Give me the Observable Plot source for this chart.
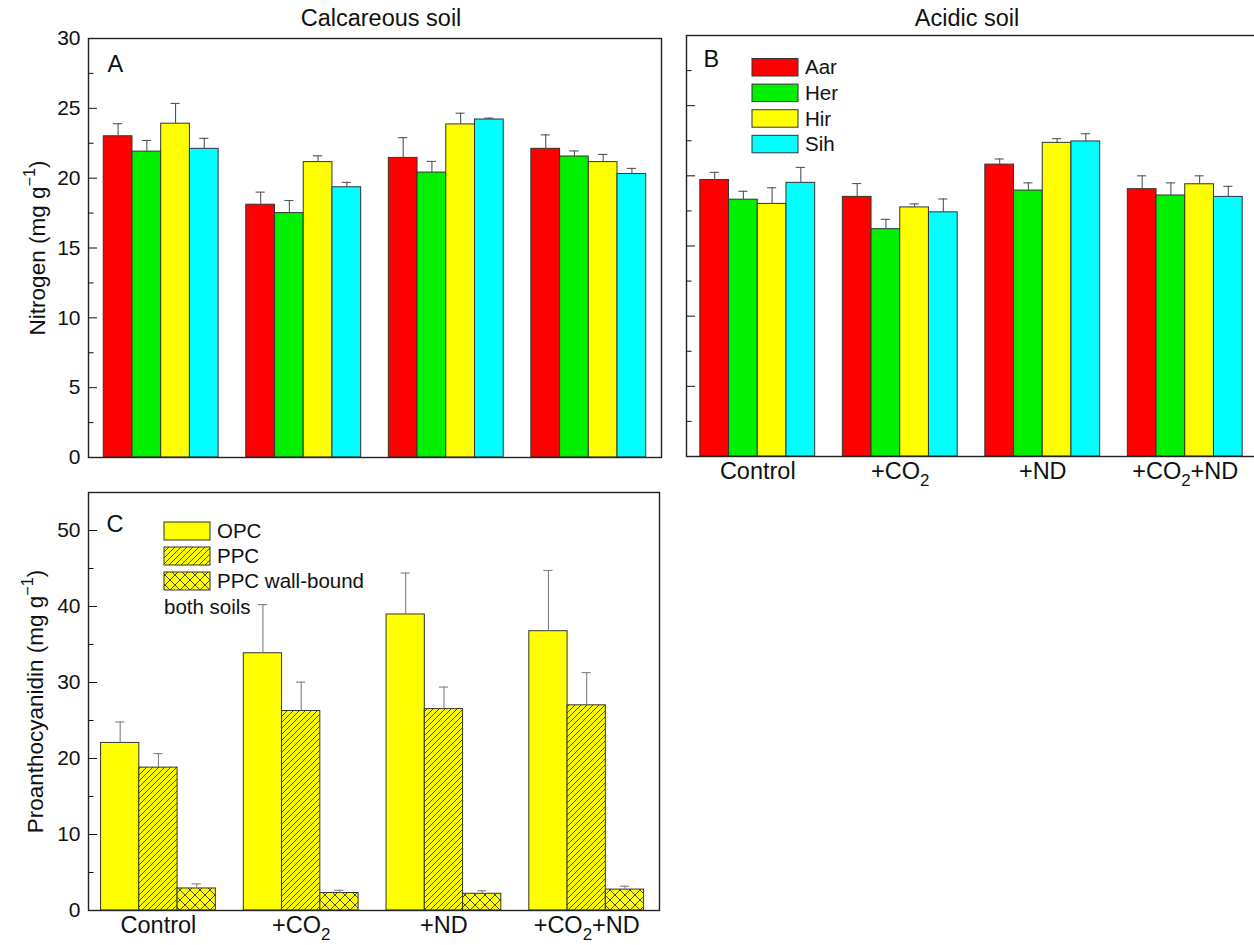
<!DOCTYPE html>
<html>
<head>
<meta charset="utf-8">
<script src="https://cdn.jsdelivr.net/npm/d3@7"></script>
<script src="https://cdn.jsdelivr.net/npm/@observablehq/plot@0.6"></script>
<style>
  html, body { margin: 0; padding: 0; background: #fff; overflow: hidden; }
  #fig { position: relative; width: 1254px; height: 945px; overflow: hidden;
         font-family: "Liberation Sans", Arial, sans-serif; color: #111; background: #fff; }
  #fig .panel { position: absolute; }
  #fig svg { max-width: none; display: block; }
  #fig .title { position: absolute; top: 7px; font-size: 23.5px; line-height: 1;
                transform: translateX(-50%); white-space: nowrap; }
</style>
</head>
<body>
<div id="fig">
  <div class="title" style="left:381px">Calcareous soil</div>
  <div class="title" style="left:967px">Acidic soil</div>
  <div class="panel" id="panelA" style="left:0;top:0;width:680px"></div>
  <div class="panel" id="panelB" style="left:670px;top:0;width:600px"></div>
  <div class="panel" id="panelC" style="left:0;top:470px;width:680px"></div>
</div>
<script>
// ---- treatments and series ----
const groups = ["Control", "+CO₂", "+ND", "+CO₂+ND"];
const species = ["Aar", "Her", "Hir", "Sih"];

// Leaf nitrogen (mg g-1), one row per treatment, one value per species
const calcareousN   = [[23.0, 21.9, 23.9, 22.1], [18.1, 17.5, 21.15, 19.35], [21.45, 20.4, 23.85, 24.2], [22.1, 21.55, 21.15, 20.3]];
const calcareousErr = [[0.9, 0.8, 1.45, 0.75], [0.9, 0.9, 0.45, 0.35], [1.45, 0.8, 0.8, 0.1], [1.0, 0.4, 0.55, 0.4]];
const acidicN       = [[19.7, 18.3, 18.0, 19.5], [18.5, 16.2, 17.75, 17.4], [20.8, 18.95, 22.35, 22.45], [19.05, 18.6, 19.4, 18.5]];
const acidicErr     = [[0.55, 0.6, 1.15, 1.1], [0.95, 0.7, 0.25, 0.95], [0.4, 0.55, 0.3, 0.55], [0.95, 0.9, 0.6, 0.75]];

// Proanthocyanidin fractions (mg g-1), both soils, one value per treatment
const fractions = ["OPC", "PPC", "PPC wall-bound"];
const opc     = [22.05, 33.85, 38.95, 36.75];
const opcErr  = [2.75, 6.4, 5.45, 8.0];
const ppc     = [18.8, 26.25, 26.5, 27.0];
const ppcErr  = [1.85, 3.8, 2.9, 4.3];
const wall    = [2.9, 2.3, 2.2, 2.75];
const wallErr = [0.6, 0.35, 0.4, 0.45];

// ---- styling ----
const FONT = '"Liberation Sans", Arial, sans-serif';
const speciesColors = ["#ff0000", "#00f000", "#ffff00", "#00ffff"];
const fractionFills = ["#ffff00", "url(#hatch-ppc)", "url(#hatch-wall)"];
const NS = "http://www.w3.org/2000/svg";

// rows for grouped bars: g = treatment index, s = position inside the group
const nitrogenRows = (vals, errs) =>
  vals.flatMap((row, g) => row.map((v, s) => ({g, s, series: species[s], v, e: errs[g][s]})));
const fractionRows = [opc, ppc, wall].flatMap((vals, s) =>
  vals.map((v, g) => ({g, s, series: fractions[s], v, e: [opcErr, ppcErr, wallErr][s][g]})));

// horizontal placement of a bar inside its treatment group (x in group units)
function slots(n, w) {
  return {
    x1: d => d.g + (d.s - n / 2) * w,
    x2: d => d.g + (d.s - n / 2 + 1) * w,
    xc: d => d.g + (d.s - n / 2 + 0.5) * w
  };
}

function barMarks(data, n, w, cap, whisker) {
  const p = slots(n, w);
  return [
    Plot.rect(data, {x1: p.x1, x2: p.x2, y1: () => 0, y2: "v", fill: "series", stroke: "#333", strokeWidth: 1}),
    Plot.ruleX(data, {x: p.xc, y1: "v", y2: d => d.v + d.e, stroke: whisker, strokeWidth: 1.1}),
    Plot.ruleY(data, {y: d => d.v + d.e, x1: d => p.xc(d) - cap, x2: d => p.xc(d) + cap, stroke: whisker, strokeWidth: 1.1})
  ];
}

function yAxes(major, minor, withLabels) {
  return [
    Plot.axisY({ticks: major, tickSize: -9, tickPadding: 17, label: null,
                fill: withLabels ? "#111" : "none", fontSize: 21}),
    Plot.axisY({ticks: minor, tickSize: -5.5, label: null, fill: "none"})
  ];
}

const groupAxis = () => Plot.axisX({ticks: [0, 1, 2, 3], tickFormat: i => groups[i],
                                    tickSize: 0, tickPadding: 6, label: null, fontSize: 23.5});

const panelLetter = (letter, dx, dy) =>
  Plot.text([letter], {frameAnchor: "top-left", textAnchor: "start", lineAnchor: "top", dx, dy, fontSize: 23.5});

const yTitle = (label, dx) =>
  Plot.text([label], {frameAnchor: "left", textAnchor: "middle", lineAnchor: "middle", rotate: -90, dx, fontSize: 22.5});

// sub- and superscripts written as tspans
function typeset(svg) {
  svg.querySelectorAll("text").forEach(t => {
    const s = t.textContent;
    if (!/₂|⁻¹/.test(s)) return;
    const fs = parseFloat(getComputedStyle(t).fontSize) || 20;
    t.textContent = "";
    let shift = 0;
    for (const part of s.split(/(₂|⁻¹)/)) {
      if (!part) continue;
      const ts = document.createElementNS(NS, "tspan");
      let target = 0;
      if (part === "₂") { ts.textContent = "2"; target = 0.3 * fs; ts.setAttribute("font-size", 0.72 * fs); }
      else if (part === "⁻¹") { ts.textContent = "−1"; target = -0.42 * fs; ts.setAttribute("font-size", 0.72 * fs); }
      else ts.textContent = part;
      if (target !== shift) ts.setAttribute("dy", target - shift);
      shift = target;
      t.appendChild(ts);
    }
  });
}

const baseStyle = {fontFamily: FONT, fontSize: "20px", color: "#111", background: "transparent", maxWidth: "none"};

// ---- A: calcareous soil ----
const plotA = Plot.plot({
  width: 680, height: 470,
  marginTop: 38, marginBottom: 13, marginLeft: 88, marginRight: 19,
  style: baseStyle,
  x: {domain: [-0.51, 3.51], axis: null},
  y: {domain: [0, 30]},
  color: {domain: species, range: speciesColors},
  marks: [
    ...barMarks(nitrogenRows(calcareousN, calcareousErr), 4, 0.2015, 0.032, "#555"),
    ...yAxes(d3.range(0, 31, 5), d3.range(2.5, 30, 5), true),
    Plot.frame({stroke: "#222", strokeWidth: 1.4}),
    panelLetter("A", 19, 17),
    yTitle("Nitrogen (mg g⁻¹)", -51)
  ]
});
document.getElementById("panelA").appendChild(plotA);
typeset(plotA);

// ---- B: acidic soil ----
const plotB = Plot.plot({
  width: 600, height: 500,
  marginTop: 35, marginBottom: 44, marginLeft: 16, marginRight: 14,
  style: baseStyle,
  x: {domain: [-0.5, 3.5]},
  y: {domain: [0, 30]},
  color: {domain: species, range: speciesColors},
  marks: [
    ...barMarks(nitrogenRows(acidicN, acidicErr), 4, 0.2015, 0.032, "#555"),
    ...yAxes(d3.range(0, 31, 5), d3.range(2.5, 30, 5), false),
    groupAxis(),
    Plot.frame({stroke: "#222", strokeWidth: 1.4}),
    panelLetter("B", 17, 15)
  ]
});
document.getElementById("panelB").appendChild(plotB);
typeset(plotB);
{
  const lg = d3.select(plotB).append("g").attr("font-family", FONT).attr("font-size", 20.5)
    .attr("fill", "#111").attr("text-anchor", "start");
  species.forEach((name, i) => {
    lg.append("rect").attr("x", 82).attr("y", 58.5 + i * 25.6).attr("width", 46).attr("height", 17.5)
      .attr("fill", speciesColors[i]).attr("stroke", "#333").attr("stroke-width", 1);
    lg.append("text").attr("x", 135).attr("y", 67.2 + i * 25.6).attr("dy", "0.35em").text(name);
  });
}

// ---- C: proanthocyanidins, both soils ----
const plotC = Plot.plot({
  width: 680, height: 475,
  marginTop: 22, marginBottom: 35, marginLeft: 88, marginRight: 21,
  style: baseStyle,
  x: {domain: [-0.49, 3.51]},
  y: {domain: [0, 55]},
  color: {domain: fractions, range: fractionFills},
  marks: [
    ...barMarks(fractionRows, 3, 0.268, 0.032, "#808080"),
    ...yAxes(d3.range(0, 51, 10), d3.range(5, 55, 10), true),
    groupAxis(),
    Plot.frame({stroke: "#222", strokeWidth: 1.4}),
    panelLetter("C", 18, 23),
    yTitle("Proanthocyanidin (mg g⁻¹)", -53)
  ]
});
document.getElementById("panelC").appendChild(plotC);
typeset(plotC);
{
  const svg = d3.select(plotC);
  const defs = svg.insert("defs", ":first-child");
  const ppcPat = defs.append("pattern").attr("id", "hatch-ppc").attr("patternUnits", "userSpaceOnUse")
    .attr("width", 6).attr("height", 6);
  ppcPat.append("rect").attr("width", 6).attr("height", 6).attr("fill", "#ffff00");
  ppcPat.append("path").attr("d", "M-1,1 L1,-1 M0,6 L6,0 M5,7 L7,5").attr("stroke", "#333").attr("stroke-width", 0.9);
  const wallPat = defs.append("pattern").attr("id", "hatch-wall").attr("patternUnits", "userSpaceOnUse")
    .attr("width", 10).attr("height", 10);
  wallPat.append("rect").attr("width", 10).attr("height", 10).attr("fill", "#ffff00");
  wallPat.append("path").attr("d", "M0,0 L10,10 M10,0 L0,10").attr("stroke", "#333").attr("stroke-width", 0.9);

  const lg = svg.append("g").attr("font-family", FONT).attr("font-size", 20.5)
    .attr("fill", "#111").attr("text-anchor", "start");
  fractions.forEach((name, i) => {
    lg.append("rect").attr("x", 164).attr("y", 52 + i * 25).attr("width", 46).attr("height", 18)
      .attr("fill", fractionFills[i]).attr("stroke", "#333").attr("stroke-width", 1);
    lg.append("text").attr("x", 217).attr("y", 61 + i * 25).attr("dy", "0.35em").text(name);
  });
  lg.append("text").attr("x", 164).attr("y", 137).attr("dy", "0.35em").text("both soils");
}
</script>
</body>
</html>
